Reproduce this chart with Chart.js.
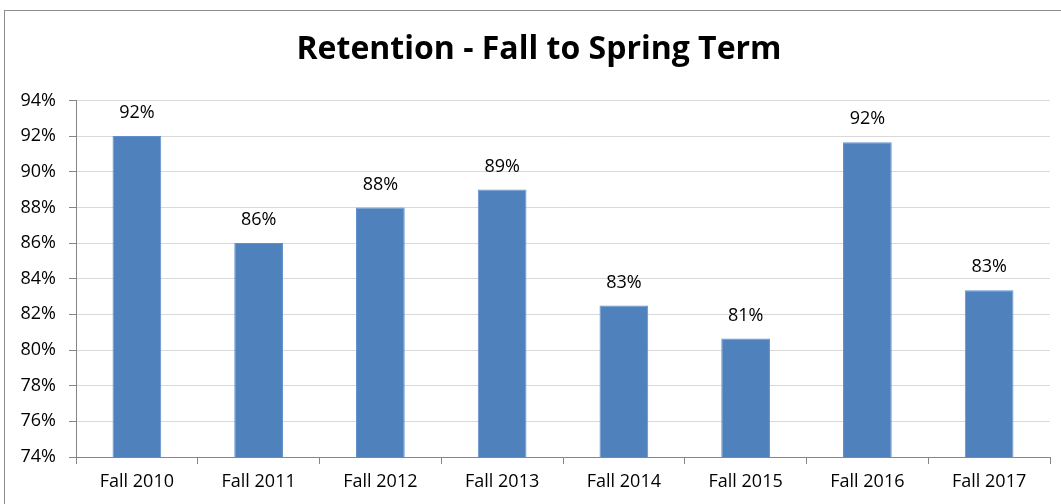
<!DOCTYPE html>
<html>
<head>
<meta charset="utf-8">
<script src="https://cdn.jsdelivr.net/npm/chart.js@4/dist/chart.umd.min.js"></script>
<style>
  html, body { margin: 0; padding: 0; background: #fff; overflow: hidden; }
  .frame {
    position: absolute; left: 4px; top: 10px; width: 1100px; height: 600px;
    border: 1px solid #8c8c8c; box-sizing: border-box;
  }
  .wrap { position: absolute; left: 0; top: 0; width: 1061px; height: 504px; }
</style>
</head>
<body>
<div class="frame"></div>
<div class="wrap"><canvas id="chart"></canvas></div>
<script>
const chartTitle = 'Retention - Fall to Spring Term';
const categories = ['Fall 2010', 'Fall 2011', 'Fall 2012', 'Fall 2013', 'Fall 2014', 'Fall 2015', 'Fall 2016', 'Fall 2017'];
const retention = [92.0, 86.0, 88.0, 89.0, 82.5, 80.65, 91.65, 83.35];
const yTicks = [74, 76, 78, 80, 82, 84, 86, 88, 90, 92, 94];

const FONT = '"Open Sans", sans-serif';

// labels above each bar, like Excel data labels
const barLabels = {
  id: 'barLabels',
  afterDatasetsDraw(chart) {
    const ctx = chart.ctx;
    const meta = chart.getDatasetMeta(0);
    ctx.save();
    ctx.font = '18px ' + FONT;
    ctx.fillStyle = '#000';
    ctx.textAlign = 'center';
    ctx.textBaseline = 'middle';
    meta.data.forEach((bar, i) => {
      ctx.fillText(Math.round(retention[i]) + '%', bar.x, bar.y - 23);
    });
    ctx.restore();
  },
};

// title centred on the whole frame (which runs past the right edge)
const frameTitle = {
  id: 'frameTitle',
  afterDraw(chart) {
    const ctx = chart.ctx;
    ctx.save();
    ctx.font = 'bold 32px ' + FONT;
    ctx.fillStyle = '#000';
    ctx.textAlign = 'center';
    ctx.textBaseline = 'middle';
    ctx.fillText(chartTitle, 539, 50);
    ctx.restore();
  },
};

new Chart(document.getElementById('chart'), {
  type: 'bar',
  data: {
    labels: categories,
    datasets: [{
      data: retention,
      backgroundColor: '#4F81BD',
      borderColor: '#5F90CC',
      borderWidth: 1,
      barPercentage: 0.4,
      categoryPercentage: 1,
    }],
  },
  options: {
    responsive: true,
    maintainAspectRatio: false,
    animation: false,
    layout: { padding: { left: 0, right: 11, top: 100.4, bottom: 0 } },
    plugins: {
      legend: { display: false },
      tooltip: { enabled: false },
      title: { display: false },
    },
    scales: {
      x: {
        grid: { display: true, drawOnChartArea: false, drawTicks: true, tickLength: 7, color: '#868686', tickColor: '#868686' },
        border: { display: true, color: '#868686', width: 1 },
        ticks: { color: '#000', font: { family: FONT, size: 18 }, padding: 7, maxRotation: 0 },
        afterFit(scale) { scale.height = 47; },
      },
      y: {
        min: 74,
        max: 94,
        afterBuildTicks(scale) { scale.ticks = yTicks.map(v => ({ value: v })); },
        grid: { color: '#D9D9D9', lineWidth: 1, tickLength: 7, tickColor: '#868686' },
        border: { display: true, color: '#868686', width: 1 },
        ticks: {
          color: '#000',
          font: { family: FONT, size: 18 },
          padding: 13,
          callback: v => v + '%',
        },
        afterFit(scale) { scale.width = 76; },
      },
    },
  },
  plugins: [barLabels, frameTitle],
});
</script>
</body>
</html>
